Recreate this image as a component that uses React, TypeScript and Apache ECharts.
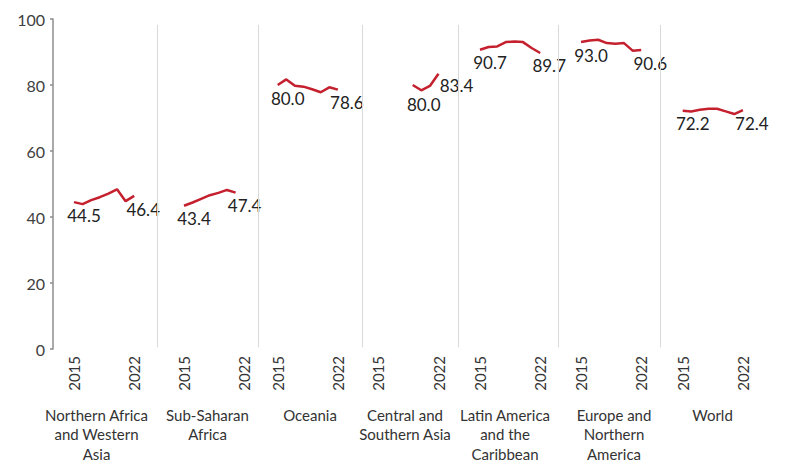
import React, { useEffect, useRef } from "react";
import * as echarts from "echarts";

// ---- data ----
const YEARS = [2015, 2016, 2017, 2018, 2019, 2020, 2021, 2022];
const REGIONS = [
  "Northern Africa\nand Western\nAsia",
  "Sub-Saharan\nAfrica",
  "Oceania",
  "Central and\nSouthern Asia",
  "Latin America\nand the\nCaribbean",
  "Europe and\nNorthern\nAmerica",
  "World",
];
const NAWA = [44.5, 43.9, 45.1, 46.0, 47.1, 48.4, 44.8, 46.4];
const SSA = [43.4, 44.4, 45.5, 46.6, 47.3, 48.2, 47.4, null];
const OCEANIA = [80.0, 81.7, 79.8, 79.5, 78.7, 77.8, 79.3, 78.6];
const CSA = [null, null, null, null, 80.0, 78.4, 79.7, 83.4];
const LAC = [90.7, 91.5, 91.7, 93.0, 93.2, 93.0, 91.2, 89.7];
const ENA = [93.0, 93.5, 93.7, 92.7, 92.5, 92.7, 90.4, 90.6];
const WORLD = [72.2, 72.0, 72.5, 72.8, 72.8, 72.0, 71.2, 72.4];
const SERIES = [NAWA, SSA, OCEANIA, CSA, LAC, ENA, WORLD];
const YEAR_TICKS = [2015, 2022];

// ---- layout / style ----
const PANEL_EDGES = [53, 157, 258, 362, 458, 558, 660, 762];
const FIRST_OFFSET = [21, 27, 19.7, 16.3, 22, 23, 22.7];
const NAME_SHIFT = [-8.5, 0, 0, -5, -3, 5, 1.5];
const FIRST_LABEL_OFFSET = [[10, 0], [10, 0], [10, 0], [11, 6], [10, 0], [10, 0], [10, 0]];
const LAST_LABEL_OFFSET = [[9, 1], [9, 0], [9, 0], [18, -1], [9, 0], [9, 0], [9, 0]];
const PX_PER_YEAR = 8.6;
const TOP = 19;
const HEIGHT = 330;
const FONT = "Lato, 'Open Sans', sans-serif";
const RED = "#c4202e";

export default function App() {
  const ref = useRef<HTMLDivElement>(null);
  useEffect(() => {
    if (!ref.current) return;
    const chart = echarts.init(ref.current, null, { renderer: "svg" });
    const grids: any[] = [];
    const xAxes: any[] = [];
    const yAxes: any[] = [];
    const series: any[] = [];
    SERIES.forEach((vals, i) => {
      const left = PANEL_EDGES[i];
      const width = PANEL_EDGES[i + 1] - PANEL_EDGES[i];
      const min = 2015 - FIRST_OFFSET[i] / PX_PER_YEAR;
      const max = min + width / PX_PER_YEAR;
      grids.push({
        left,
        top: TOP,
        width,
        height: HEIGHT,
        containLabel: false,
        outerBoundsMode: "none",
      });
      const shift = NAME_SHIFT[i];
      xAxes.push({
        gridIndex: i,
        type: "value",
        min,
        max,
        axisLine: { show: false },
        axisTick: { show: false },
        splitLine: { show: false },
        axisLabel: {
          customValues: YEAR_TICKS,
          rotate: 90,
          margin: 7,
          fontSize: 15,
          color: "#333",
          fontFamily: FONT,
          formatter: (v: number) => String(Math.round(v)),
        },
        name: REGIONS[i],
        nameLocation: "middle",
        nameGap: 56,
        nameTextStyle: {
          fontSize: 15,
          lineHeight: 19.5,
          color: "#333",
          fontFamily: FONT,
          padding: shift < 0 ? [0, -2 * shift, 0, 0] : [0, 0, 0, 2 * shift],
        },
      });
      yAxes.push({
        gridIndex: i,
        type: "value",
        min: 0,
        max: 100,
        interval: 20,
        show: i === 0,
        axisLine: { show: true, lineStyle: { color: "#8c8c8c", width: 1.5 } },
        axisTick: { show: true, length: 3, lineStyle: { color: "#8c8c8c", width: 1.5 } },
        axisLabel: { fontSize: 16, color: "#404040", margin: 8, fontFamily: FONT },
        splitLine: { show: false },
      });
      const idx = vals.map((v, j) => (v == null ? -1 : j)).filter((j) => j >= 0);
      const first = idx[0];
      const last = idx[idx.length - 1];
      const data = YEARS.map((y, j) => {
        const v = vals[j];
        const item: any = { value: [y, v == null ? null : v] };
        if (j === first) item.label = { offset: FIRST_LABEL_OFFSET[i] };
        if (j === last) item.label = { offset: LAST_LABEL_OFFSET[i] };
        return item;
      }).filter((d) => d.value[1] != null);
      const s: any = {
        type: "line",
        xAxisIndex: i,
        yAxisIndex: i,
        data,
        clip: false,
        symbol: "circle",
        symbolSize: 1,
        itemStyle: { color: "rgba(0,0,0,0)" },
        lineStyle: { color: RED, width: 2.5 },
        emphasis: { disabled: true },
        label: {
          show: true,
          position: "bottom",
          distance: 4,
          offset: [10, 0],
          fontSize: 17,
          color: "#222",
          fontFamily: FONT,
          formatter: (p: any) => {
            const j = YEARS.indexOf(p.value[0]);
            return j === first || j === last ? Number(p.value[1]).toFixed(1) : "";
          },
        },
      };
      if (i > 0) {
        s.markLine = {
          silent: true,
          symbol: "none",
          label: { show: false },
          lineStyle: { color: "#d9d9d9", width: 1, type: "solid" },
          data: [[{ coord: [min, 0.5] }, { coord: [min, 98.2] }]],
        };
      }
      series.push(s);
    });
    chart.setOption({
      animation: false,
      textStyle: { fontFamily: FONT },
      grid: grids,
      xAxis: xAxes,
      yAxis: yAxes,
      series,
    });
    return () => chart.dispose();
  }, []);
  return (
    <div
      ref={ref}
      style={{ position: "fixed", left: 0, top: 0, width: 785, height: 465, background: "#fff" }}
    />
  );
}
